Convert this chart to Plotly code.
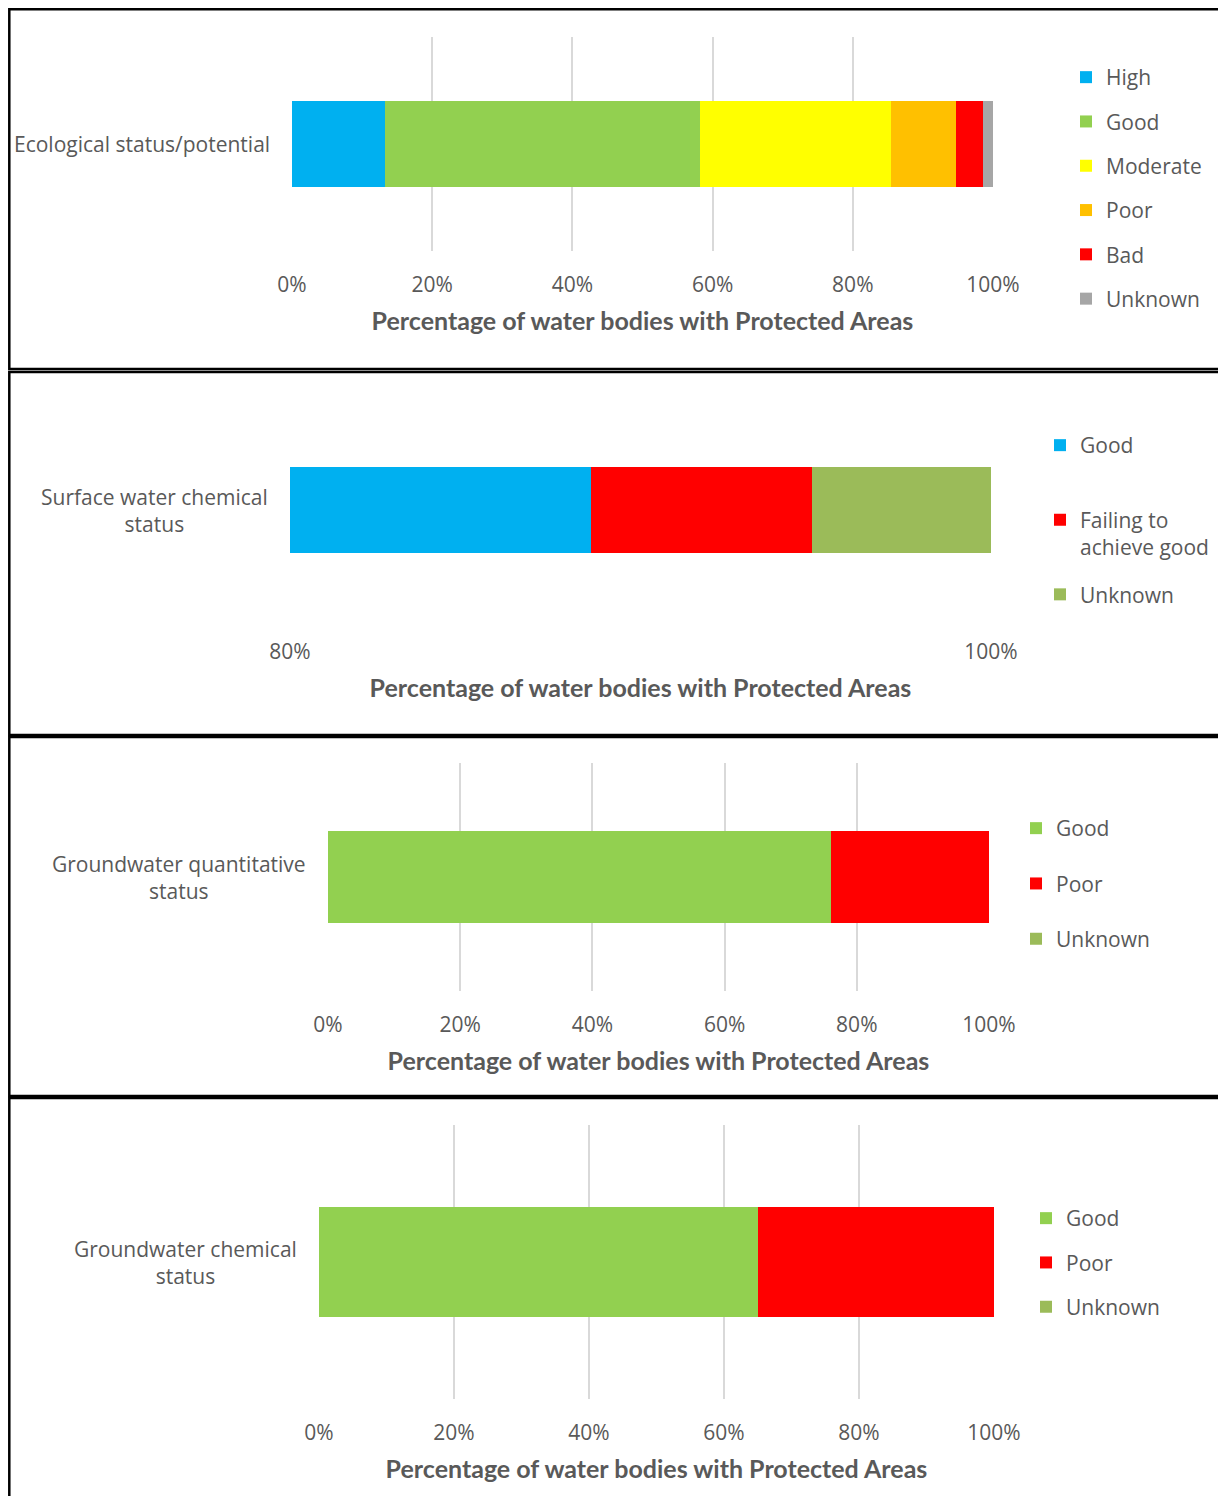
import plotly.graph_objects as go

# page is rendered with an 8px body margin; lay out in reference pixels minus offset
OFF = 8
W, H = 1226 - OFF, 1496 - OFF

# ---------------- data ----------------
eco_category = ["Ecological status/potential"]
eco_names = ["High", "Good", "Moderate", "Poor", "Bad", "Unknown"]
eco_values = [13.3, 44.9, 27.2, 9.3, 3.9, 1.4]
eco_colors = ["#00B0F0", "#92D050", "#FFFF00", "#FFC000", "#FF0000", "#A6A6A6"]

swc_category = ["Surface water chemical<br>status"]
swc_names = ["Good", "Failing to<br>achieve good", "Unknown"]
swc_values = [88.6, 6.3, 5.1]
swc_colors = ["#00B0F0", "#FF0000", "#9BBB59"]

gwq_category = ["Groundwater quantitative<br>status"]
gwq_names = ["Good", "Poor", "Unknown"]
gwq_values = [76.1, 23.9, 0.0]
gwq_colors = ["#92D050", "#FF0000", "#9BBB59"]

gwc_category = ["Groundwater chemical<br>status"]
gwc_names = ["Good", "Poor", "Unknown"]
gwc_values = [65.0, 35.0, 0.0]
gwc_colors = ["#92D050", "#FF0000", "#9BBB59"]

x_title = "Percentage of water bodies with Protected Areas"

# ---------------- layout helpers ----------------
def px(x):
    return (x - OFF) / W

def py(y):
    return 1 - (y - OFF) / H

def xd(a, b):
    return [px(a), px(b)]

def yd(top, bottom):
    return [py(bottom), py(top)]

TXT = "#595959"
FONT = "Open Sans"
TFONT = "Lato"

panels = [
    dict(cat=eco_category, names=eco_names, vals=eco_values, cols=eco_colors,
         xpx=(292, 993), ypx=(37, 251), xr=[0, 100], leg=(1066, 57), gap=14),
    dict(cat=swc_category, names=swc_names, vals=swc_values, cols=swc_colors,
         xpx=(290, 991), ypx=(402, 618), xr=[80, 100], leg=(1040, 425), gap=17),
    dict(cat=gwq_category, names=gwq_names, vals=gwq_values, cols=gwq_colors,
         xpx=(328, 989), ypx=(763, 991), xr=[0, 100], leg=(1016, 808), gap=25),
    dict(cat=gwc_category, names=gwc_names, vals=gwc_values, cols=gwc_colors,
         xpx=(319, 994), ypx=(1125, 1399), xr=[0, 100], leg=(1026, 1198), gap=14),
]

fig = go.Figure()
layout = dict(
    template="none",
    width=W, height=H, margin=dict(l=0, r=0, t=0, b=0, autoexpand=False),
    paper_bgcolor="white", plot_bgcolor="white", barmode="stack",
    showlegend=True, font=dict(family=FONT, color=TXT, size=21),
)
annotations = []

for i, p in enumerate(panels, start=1):
    sfx = "" if i == 1 else str(i)
    legname = "legend" + sfx
    for j, (n, v, c) in enumerate(zip(p["names"], p["vals"], p["cols"])):
        label = n
        if i == 2 and j == 0:
            label = n + "<br> "
        fig.add_trace(go.Bar(
            y=p["cat"], x=[v], name=label, orientation="h",
            marker=dict(color=c, line=dict(width=0)), width=0.4,
            xaxis="x" + sfx, yaxis="y" + sfx, legend=legname,
            legendgroup=f"p{i}g{j}", showlegend=True,
        ))
    layout["xaxis" + sfx] = dict(
        domain=xd(*p["xpx"]), anchor="y" + sfx, range=p["xr"], dtick=20,
        tick0=0, ticksuffix="%", showgrid=True, gridcolor="#D9D9D9", gridwidth=2,
        zeroline=False, showline=False, ticks="", ticklabelstandoff=19,
        automargin=False,
        tickfont=dict(family=FONT, size=21, color=TXT),
        title=dict(text=x_title, standoff=15,
                   font=dict(family=TFONT, size=25, color=TXT, weight="bold")),
        fixedrange=True,
    )
    layout["yaxis" + sfx] = dict(
        domain=yd(*p["ypx"]), anchor="x" + sfx, showticklabels=False,
        showgrid=False, zeroline=False, showline=False, range=[-0.5, 0.5],
        automargin=False, fixedrange=True,
    )
    lx, ly = p["leg"]
    layout[legname] = dict(
        x=px(lx), y=py(ly), xanchor="left", yanchor="top",
        xref="paper", yref="paper", bgcolor="rgba(0,0,0,0)",
        font=dict(family=FONT, size=21, color=TXT),
        tracegroupgap=p["gap"], traceorder="grouped", valign="top",
        itemclick=False, itemdoubleclick=False,
    )
    annotations.append(dict(
        text=p["cat"][0], xref="paper", yref="y" + sfx,
        x=px(p["xpx"][0] - 20), y=p["cat"][0], xanchor="right", yanchor="middle",
        align="center", showarrow=False,
        font=dict(family=FONT, size=21, color=TXT),
    ))

layout["annotations"] = annotations

# panel borders (top/left of first panel nudged inside the drawable page area)
borders_px = [(9.3, 369), (372, 735), (737, 1096), (1098, 1510)]
shapes = []
for top, bottom in borders_px:
    shapes.append(dict(
        type="rect", xref="paper", yref="paper",
        x0=px(9.3), x1=1.02, y0=py(bottom), y1=py(top),
        line=dict(color="black", width=2.5), fillcolor="rgba(0,0,0,0)",
    ))
layout["shapes"] = shapes

fig.update_layout(**layout)
fig.write_html("out.html")
